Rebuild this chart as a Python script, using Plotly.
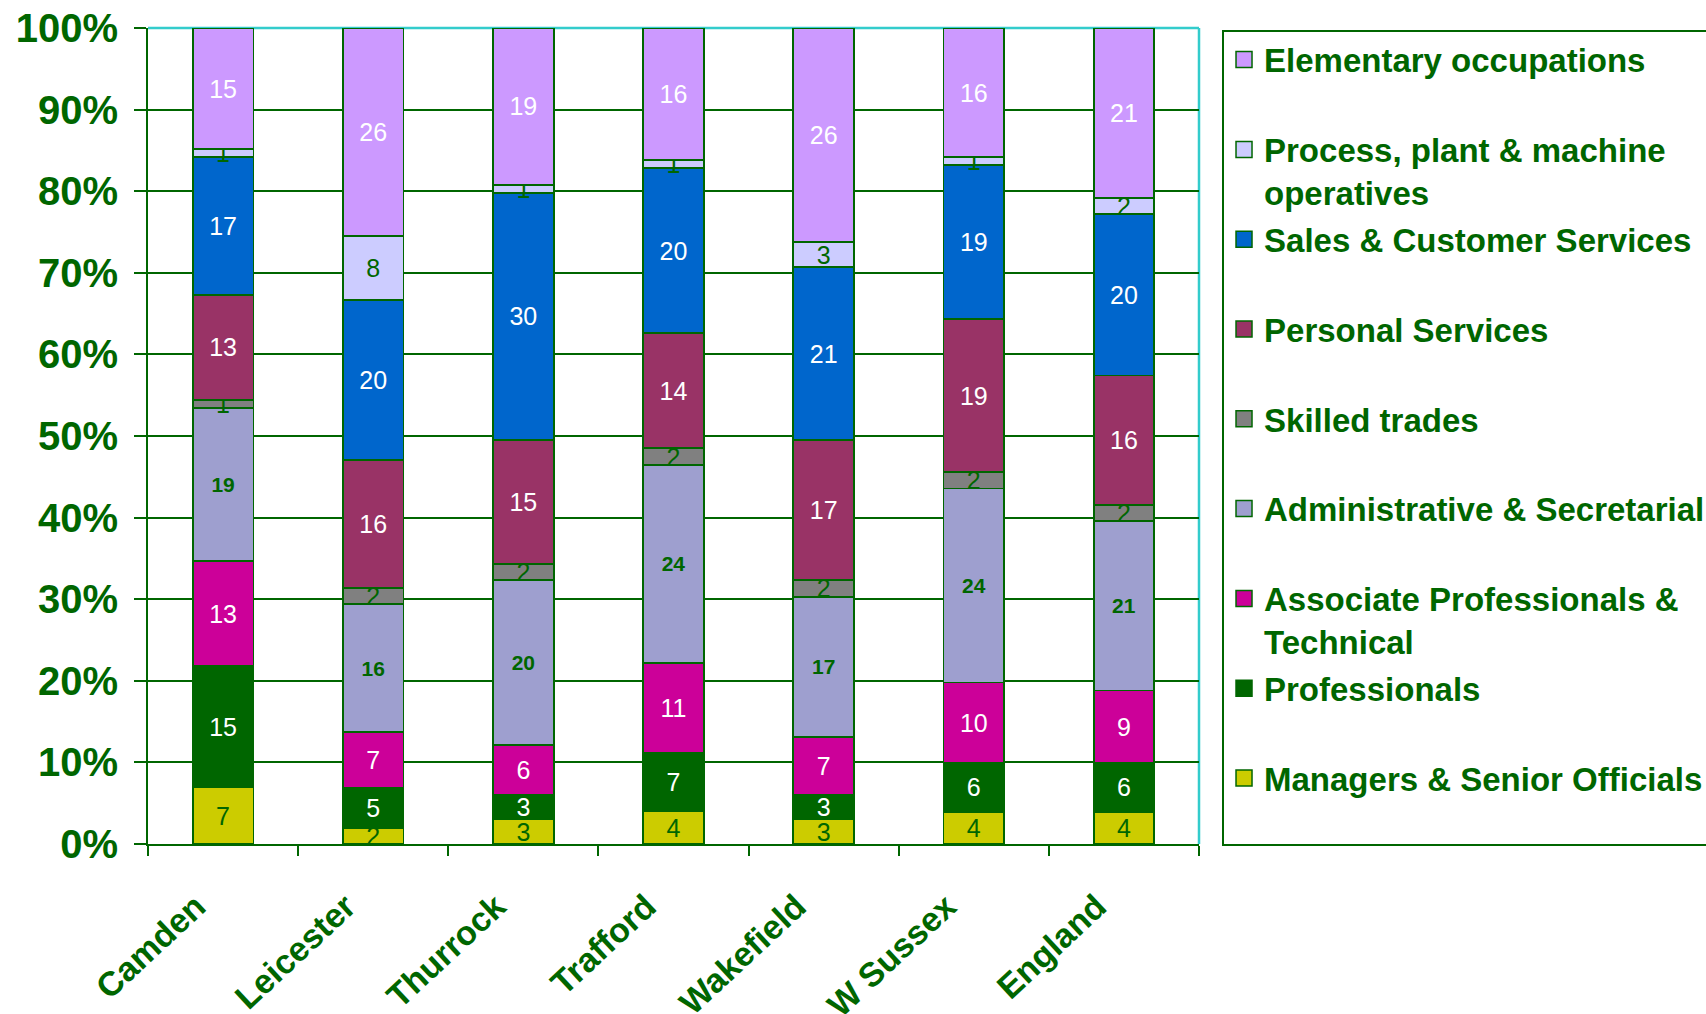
import plotly.graph_objects as go

# Areas compared along the x axis
areas = ["Camden", "Leicester", "Thurrock", "Trafford", "Wakefield", "W Sussex", "England"]

# Share of employment (%) by occupational group, bottom of the stack first
managers = [7, 2, 3, 4, 3, 4, 4]
professionals = [15, 5, 3, 7, 3, 6, 6]
associate_prof = [13, 7, 6, 11, 7, 10, 9]
admin_secretarial = [19, 16, 20, 24, 17, 24, 21]
skilled_trades = [1, 2, 2, 2, 2, 2, 2]
personal_services = [13, 16, 15, 14, 17, 19, 16]
sales_customer = [17, 20, 30, 20, 21, 19, 20]
process_plant = [1, 8, 1, 1, 3, 1, 2]
elementary = [15, 26, 19, 16, 26, 16, 21]

# Percentage axis ticks
y_ticks = [0, 10, 20, 30, 40, 50, 60, 70, 80, 90, 100]
y_tick_labels = ["0%", "10%", "20%", "30%", "40%", "50%", "60%", "70%", "80%", "90%", "100%"]

GREEN = "#006600"
FONT = "Liberation Sans"
BLANK = "<br>\u00a0"  # keeps every legend entry two lines tall

series = [
    # name, values, fill, label colour, bold label
    ("Managers & Senior Officials" + BLANK, managers, "#CCCC00", GREEN, False),
    ("Professionals" + BLANK, professionals, "#006600", "white", False),
    ("Associate Professionals &<br>Technical", associate_prof, "#CC0099", "white", False),
    ("Administrative & Secretarial" + BLANK, admin_secretarial, "#9E9FCF", GREEN, True),
    ("Skilled trades" + BLANK, skilled_trades, "#808080", GREEN, False),
    ("Personal Services" + BLANK, personal_services, "#993366", "white", False),
    ("Sales & Customer Services" + BLANK, sales_customer, "#0066CC", "white", False),
    ("Process, plant & machine<br>operatives", process_plant, "#CCCCFF", GREEN, False),
    ("Elementary occupations" + BLANK, elementary, "#CC99FF", "white", False),
]

fig = go.Figure()
n = len(series)
for i, (name, vals, fill, txtcol, bold) in enumerate(series):
    fig.add_trace(go.Bar(
        x=areas,
        y=vals,
        name=name,
        showlegend=False,
        marker=dict(color=fill, line=dict(color=GREEN, width=1.8)),
        text=[str(v) for v in vals],
        textposition="inside",
        insidetextanchor="middle",
        textangle=0,
        constraintext="none",
        textfont=dict(
            family=FONT,
            size=21 if bold else 25,
            color=txtcol,
            weight="bold" if bold else "normal",
        ),
        hoverinfo="skip",
    ))
    # legend key: a larger square swatch than the default bar key
    fig.add_trace(go.Scatter(
        x=[None],
        y=[None],
        mode="markers",
        name=name,
        legendgroup=f"g{i}",
        legendrank=n - i,
        marker=dict(symbol="square", size=17, color=fill,
                    line=dict(color=GREEN, width=1.5)),
        hoverinfo="skip",
    ))

fig.update_layout(
    width=1706,
    height=1014,
    barmode="stack",
    barnorm="percent",
    bargap=0.596,
    plot_bgcolor="white",
    paper_bgcolor="white",
    margin=dict(l=148, r=507, t=28, b=170, autoexpand=False),
    font=dict(family=FONT, color=GREEN),
    showlegend=True,
    legend=dict(
        x=1.0219,
        xanchor="left",
        y=0.998,
        yanchor="top",
        traceorder="grouped",
        tracegroupgap=1,
        valign="top",
        itemsizing="trace",
        bordercolor=GREEN,
        borderwidth=2,
        bgcolor="white",
        font=dict(family=FONT, size=33, color=GREEN, weight="bold"),
    ),
    xaxis=dict(
        type="category",
        showline=True,
        linecolor=GREEN,
        linewidth=2,
        ticks="outside",
        tickson="boundaries",
        ticklen=10,
        tickwidth=1.5,
        tickcolor=GREEN,
        tickangle=-43,
        ticklabelstandoff=27,
        ticklabelshift=-27,
        tickfont=dict(family=FONT, size=34, color=GREEN, weight="bold"),
        showgrid=False,
    ),
    yaxis=dict(
        range=[0, 100],
        tickmode="array",
        tickvals=y_ticks,
        ticktext=y_tick_labels,
        showline=True,
        linecolor=GREEN,
        linewidth=2,
        ticks="outside",
        ticklen=12,
        tickwidth=2,
        tickcolor=GREEN,
        showgrid=True,
        gridcolor=GREEN,
        gridwidth=2,
        zeroline=False,
        ticklabelstandoff=8,
        tickfont=dict(family=FONT, size=40, color=GREEN, weight="bold"),
    ),
    shapes=[
        # cyan frame along the top and right of the plotting area
        dict(type="line", xref="paper", yref="paper", x0=0, x1=1, y0=1, y1=1,
             line=dict(color="#33CCCC", width=2.5), layer="between"),
        dict(type="line", xref="paper", yref="paper", x0=1, x1=1, y0=0, y1=1,
             line=dict(color="#33CCCC", width=2.5), layer="between"),
    ],
)

fig.write_html("out.html")
